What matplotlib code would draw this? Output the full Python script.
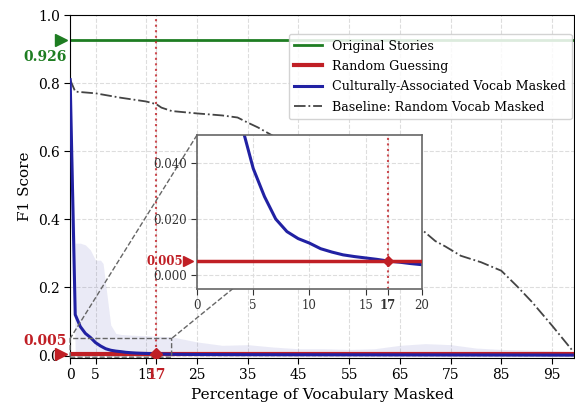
import matplotlib
matplotlib.use("Agg")
import matplotlib.pyplot as plt
import matplotlib.transforms as mtransforms

plt.rcParams['font.family'] = ['DejaVu Serif']

# values
original_score = 0.926
random_score = 0.005
cutoff = 17

cult_x = [0, 1, 2, 3, 4, 5, 6, 7, 8, 9, 10, 11, 12, 13, 14, 15, 16, 17, 18, 19, 20,
          25, 30, 40, 50, 60, 70, 80, 90, 99]
cult_y = [0.81, 0.12, 0.085, 0.065, 0.053, 0.038, 0.028, 0.020, 0.0155, 0.013, 0.0114,
          0.0094, 0.0082, 0.0072, 0.0066, 0.0061, 0.0056, 0.005, 0.0046, 0.0041, 0.0037,
          0.003, 0.0027, 0.0024, 0.0022, 0.002, 0.0018, 0.0016, 0.0014, 0.0012]

band_x = [0, 1, 2, 3, 4, 5, 6, 6.5, 8, 9, 10, 12, 15, 20, 25, 30, 35, 40, 45, 50,
          55, 60, 65, 70, 75, 80, 85, 90, 95, 99]
band_hi = [0.81, 0.33, 0.33, 0.325, 0.31, 0.28, 0.28, 0.27, 0.09, 0.065, 0.062, 0.06,
           0.058, 0.055, 0.04, 0.03, 0.032, 0.025, 0.02, 0.02, 0.018, 0.02, 0.03, 0.035,
           0.032, 0.022, 0.018, 0.016, 0.014, 0.012]
band_lo = [0.81, 0.0, 0.0, 0.0, 0.0, 0.0, 0.0, 0.0, 0.0, 0.0, 0.0, 0.0, 0.0, 0.0, 0.0,
           0.0, 0.0, 0.0, 0.0, 0.0, 0.0, 0.0, 0.0, 0.0, 0.0, 0.0, 0.0, 0.0, 0.0, 0.0]

base_x = [0, 1, 5, 10, 15, 17, 18, 20, 25, 30, 33, 35, 37, 40, 45, 50, 55, 60, 65, 69,
          72, 74, 77, 81, 85, 88, 91, 95, 99]
base_y = [0.81, 0.775, 0.77, 0.757, 0.746, 0.738, 0.728, 0.718, 0.711, 0.705, 0.699,
          0.684, 0.67, 0.645, 0.60, 0.55, 0.50, 0.45, 0.41, 0.374, 0.336, 0.32, 0.293,
          0.274, 0.249, 0.205, 0.158, 0.088, 0.015]

main_xticks = [0, 5, 15, 25, 35, 45, 55, 65, 75, 85, 95]
inset_xticks = [0, 5, 10, 15, 20]
inset_yticks = [0.0, 0.02, 0.04]

GREEN = '#1e7d22'
RED = '#c01f25'
BLUE = '#2121a3'
GRAY = '#444444'

fig = plt.figure(figsize=(5.75, 4.11), dpi=100)
ax = fig.add_axes([0.122, 0.13, 0.876, 0.8335])


def style_axes(a):
    a.grid(True, color='#dddddd', linestyle='--', linewidth=0.8)
    a.set_axisbelow(True)
    a.tick_params(direction='out', length=4, labelsize=10)


style_axes(ax)
ax.fill_between(band_x, band_lo, band_hi, color=BLUE, alpha=0.09, linewidth=0)
ax.axhline(original_score, color=GREEN, lw=2, label='Original Stories')
ax.axhline(random_score, color=RED, lw=3, label='Random Guessing', zorder=3)
ax.plot(cult_x, cult_y, color=BLUE, lw=2.2, label='Culturally-Associated Vocab Masked', zorder=4)
ax.plot(base_x, base_y, color=GRAY, lw=1.3, ls='-.', label='Baseline: Random Vocab Masked')
ax.axvline(cutoff, color=RED, ls=':', lw=1.5, alpha=0.8)
ax.plot([cutoff], [random_score], marker='D', color=RED, ms=6, zorder=5)

ax.set_xlim(0, 99.3)
ax.set_ylim(-0.006, 1.0)
ax.set_xticks(main_xticks + [cutoff])
ax.set_xticklabels([str(t) for t in main_xticks] + [str(cutoff)])
lab17 = ax.get_xticklabels()[-1]
lab17.set_color(RED)
lab17.set_fontweight('bold')
ax.set_yticks([0.0, 0.2, 0.4, 0.6, 0.8, 1.0])
ax.set_xlabel('Percentage of Vocabulary Masked', fontsize=11)
ax.set_ylabel('F1 Score', fontsize=11)

trans = mtransforms.blended_transform_factory(ax.transAxes, ax.transData)
ax.plot([-0.018], [original_score], marker='>', color=GREEN, ms=8, transform=trans, clip_on=False)
ax.plot([-0.018], [random_score], marker='>', color=RED, ms=8, transform=trans, clip_on=False)
ax.annotate(f'{original_score:.3f}', xy=(-0.05, original_score), xycoords=trans,
            xytext=(0, -12), textcoords='offset points', ha='center', va='center',
            color=GREEN, fontweight='bold', fontsize=10)
ax.annotate(f'{random_score:.3f}', xy=(-0.05, random_score), xycoords=trans,
            xytext=(0, 9), textcoords='offset points', ha='center', va='center',
            color=RED, fontweight='bold', fontsize=10)

ax.legend(loc='upper right', bbox_to_anchor=(0.996, 0.945), borderaxespad=0,
          fontsize=9.1, framealpha=0.85, handlelength=2.2, borderpad=0.45,
          labelspacing=0.58)

# zoomed inset
axins = ax.inset_axes([0.252, 0.2, 0.446, 0.45])
axins.set_facecolor('white')
style_axes(axins)
axins.axhline(random_score, color=RED, lw=2.5, zorder=3)
axins.plot(cult_x, cult_y, color=BLUE, lw=2.2, zorder=2)
axins.axvline(cutoff, color=RED, ls=':', lw=1.5, alpha=0.8)
axins.plot([cutoff], [random_score], marker='D', color=RED, ms=5, zorder=5)
axins.set_xlim(0, 20)
axins.set_ylim(-0.005, 0.05)
axins.set_xticks(inset_xticks + [cutoff])
axins.set_xticklabels([str(t) for t in inset_xticks] + [str(cutoff)])
ilab = axins.get_xticklabels()[-1]
ilab.set_color(RED)
ilab.set_fontweight('bold')
axins.set_yticks(inset_yticks)
axins.set_yticklabels([f'{v:.3f}' for v in inset_yticks])
axins.tick_params(labelsize=8.5, colors='#333333')
for s in axins.spines.values():
    s.set_color('#666666')
    s.set_linewidth(1.2)
itrans = mtransforms.blended_transform_factory(axins.transAxes, axins.transData)
axins.plot([-0.04], [random_score], marker='>', color=RED, ms=7, transform=itrans, clip_on=False)
axins.annotate(f'{random_score:.3f}', xy=(-0.06, random_score), xycoords=itrans,
               ha='right', va='center', color=RED, fontweight='bold', fontsize=8.5)

ind = ax.indicate_inset_zoom(axins, edgecolor='0.4', linestyle='--', linewidth=1, alpha=1)
conns = ind.connectors
for i, c in enumerate(conns):
    c.set_visible(i in (1, 3))
    c.set_linestyle('--')
    c.set_edgecolor('0.4')

fig.savefig('out.png', dpi=100)
